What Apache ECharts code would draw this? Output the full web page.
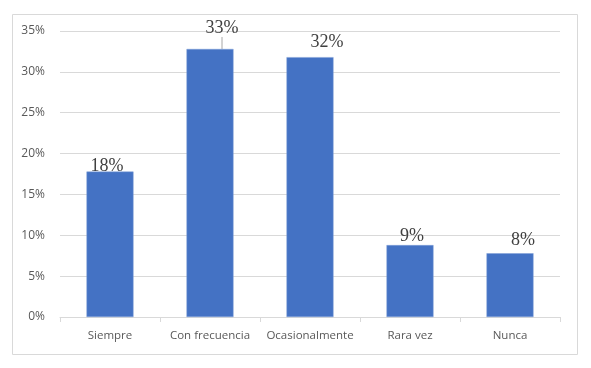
<!DOCTYPE html>
<html><head><meta charset="utf-8">
<script src="https://cdn.jsdelivr.net/npm/echarts@6/dist/echarts.min.js"></script>
<style>html,body{margin:0;padding:0;background:#fff}#c{width:591px;height:368px}</style>
</head><body><div id="c"></div>
<script>
const categories = ['Siempre', 'Con frecuencia', 'Ocasionalmente', 'Rara vez', 'Nunca'];
const values = [17.8, 32.8, 31.8, 8.8, 7.8];
const yTicks = [0, 5, 10, 15, 20, 25, 30, 35];
const labelShift = [[-3, 4], [12, -12], [17, -6], [2, 0], [13, -4]];

const chart = echarts.init(document.getElementById('c'), null, {renderer: 'canvas'});
chart.setOption({
  animation: false,
  graphic: [{type: 'rect', shape: {x: 12.5, y: 14.5, width: 565, height: 340}, style: {fill: 'none', stroke: '#d9d9d9', lineWidth: 1}, z: -1}],
  grid: {left: 60, right: 31, top: 31, bottom: 51, containLabel: false},
  xAxis: {
    type: 'category', data: categories,
    axisLine: {lineStyle: {color: '#d9d9d9'}},
    axisTick: {show: true, length: 5, lineStyle: {color: '#d9d9d9'}},
    axisLabel: {interval: 0, color: '#595959', fontSize: 11.5, fontFamily: 'Open Sans', margin: 13}
  },
  yAxis: {
    type: 'value', min: yTicks[0], max: yTicks[yTicks.length - 1], interval: 5,
    axisLine: {show: false}, axisTick: {show: false},
    splitLine: {lineStyle: {color: '#d9d9d9'}},
    axisLabel: {color: '#595959', fontSize: 12, fontFamily: 'Open Sans', margin: 15, formatter: v => v + '%'}
  },
  series: [{
    type: 'bar', barWidth: 47,
    data: values.map((v, i) => ({value: v, labelLine: {show: i === 1, lineStyle: {color: '#a6a6a6', width: 1}}})),
    itemStyle: {color: '#4472c4', borderColor: '#7f9fd6', borderWidth: 0.5},
    label: {show: true, position: 'top', distance: 0, color: '#404040', fontSize: 18, fontFamily: 'Liberation Serif',
      formatter: p => Math.round(p.value) + '%'},
    labelLayout: p => ({dx: labelShift[p.dataIndex][0], dy: labelShift[p.dataIndex][1]}),
    labelLine: {show: false}
  }]
});
</script></body></html>
